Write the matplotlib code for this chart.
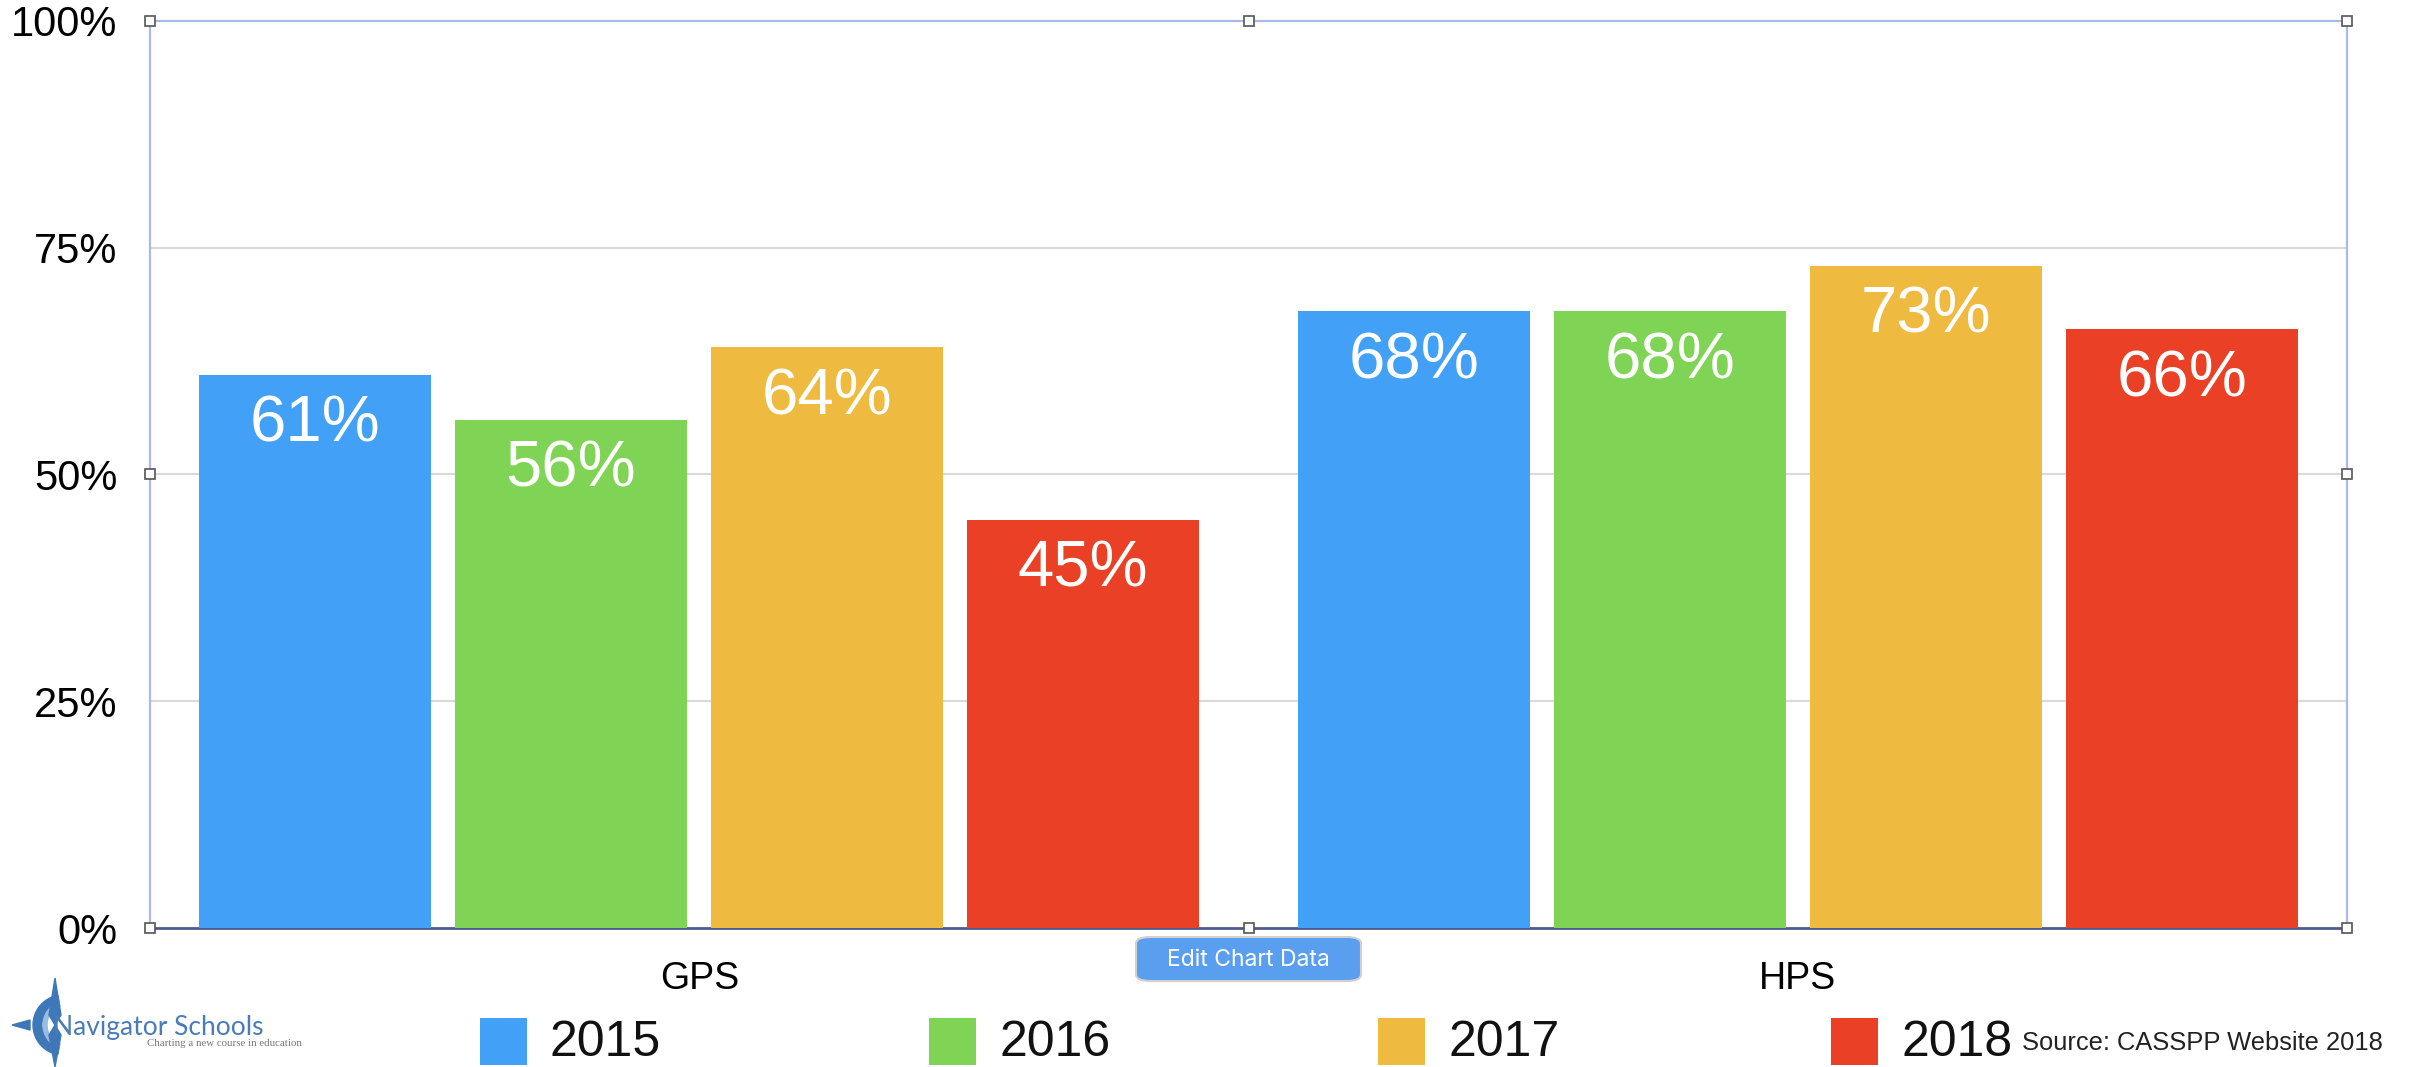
import matplotlib
matplotlib.use("Agg")
import matplotlib.pyplot as plt
import numpy as np
from matplotlib.patches import Rectangle, FancyBboxPatch, Polygon, Wedge

plt.rcParams['font.family'] = ['Liberation Sans', 'DejaVu Sans']

categories = ["GPS", "HPS"]
years = ["2015", "2016", "2017", "2018"]
values = {
    "2015": [61, 68],
    "2016": [56, 68],
    "2017": [64, 73],
    "2018": [45, 66],
}
colors = ["#42a0f6", "#80d455", "#eeba40", "#ea4025"]
yticks = [0, 25, 50, 75, 100]
ytick_labels = ["0%", "25%", "50%", "75%", "100%"]
source_text = "Source: CASSPP Website 2018"

W, H = 2427, 1067
fig = plt.figure(figsize=(W / 100, H / 100), dpi=100)
L, R, T, B = 150, 2347, 20.7, 928
ax = fig.add_axes([L / W, (H - B) / H, (R - L) / W, (B - T) / H])

x = np.arange(len(categories))
bw = 0.211
step = 0.233
for i, yr in enumerate(years):
    xs = x + (i - 1.5) * step
    bars = ax.bar(xs, values[yr], width=bw, color=colors[i], zorder=3)
    for xi, v in zip(xs, values[yr]):
        ax.annotate(f"{v}%", (xi, v), xytext=(0, -36), textcoords="offset points",
                    ha="center", va="center", color="white", fontsize=47, zorder=4)

ax.set_xlim(-0.5, 1.5)
ax.set_ylim(0, 100)
ax.set_yticks(yticks)
ax.set_yticklabels(ytick_labels)
ax.set_xticks(x)
ax.set_xticklabels(categories)
ax.tick_params(axis="y", length=0, pad=23.5, labelsize=30)
ax.tick_params(axis="x", length=0, pad=24, labelsize=27)
for yv in [25, 50, 75]:
    ax.axhline(yv, color="#d9d9d9", lw=1.5, zorder=1)
for s in ["left", "top", "right"]:
    ax.spines[s].set_color("#a9baea")
    ax.spines[s].set_linewidth(1.6)
ax.spines["bottom"].set_color("#4c5c8c")
ax.spines["bottom"].set_linewidth(2)

# selection handles
hx = [L, (L + R) / 2, R]
hy = [T, (T + B) / 2, B]
for px in hx:
    for py in hy:
        if px == (L + R) / 2 and py == (T + B) / 2:
            continue
        fig.patches.append(Rectangle(((px - 5) / W, (H - py - 5) / H), 10 / W, 10 / H,
                                     transform=fig.transFigure, facecolor="white",
                                     edgecolor="#555555", lw=1.2, zorder=10))

# legend
sq_x = [480, 929, 1378, 1831]
for i, yr in enumerate(years):
    fig.patches.append(Rectangle((sq_x[i] / W, (H - 1065) / H), 47 / W, 47 / H,
                                 transform=fig.transFigure, facecolor=colors[i],
                                 edgecolor="none"))
    fig.text((sq_x[i] + 70) / W, (H - 1043) / H, yr, fontsize=36, va="center",
             ha="left", color="#111111")

fig.text(2022 / W, (H - 1043) / H, source_text, fontsize=18.4, va="center",
         ha="left", color="#222222")

# Edit Chart Data button
fig.patches.append(FancyBboxPatch((1136 / W, (H - 981) / H), 225 / W, 44 / H,
                                  boxstyle="round,pad=0,rounding_size=0.006",
                                  transform=fig.transFigure, facecolor="#5a9ef0",
                                  edgecolor="#d0d0d0", lw=1.5, zorder=5))
fig.text(1248 / W, (H - 960) / H, "Edit Chart Data", fontsize=16.5, color="white",
         ha="center", va="center", family=["Inter", "DejaVu Sans"], zorder=6)

# logo
logo_blue = "#3f78b8"
cx, cy = 55, 1025
star = [(cx, 978), (cx + 6, cy - 10), (cx, cy), (cx - 6, cy - 10)]
fig.patches.append(Polygon([(px / W, (H - py) / H) for px, py in star],
                           transform=fig.transFigure, color=logo_blue))
star2 = [(cx, 1067), (cx + 6, cy + 10), (cx, cy), (cx - 6, cy + 10)]
fig.patches.append(Polygon([(px / W, (H - py) / H) for px, py in star2],
                           transform=fig.transFigure, color=logo_blue))
star3 = [(12, cy), (cx - 25, cy - 5), (cx - 25, cy + 5)]
fig.patches.append(Polygon([(px / W, (H - py) / H) for px, py in star3],
                           transform=fig.transFigure, color=logo_blue))
lax = fig.add_axes([0, 0, 1, 1], facecolor="none")
lax.set_xlim(0, W)
lax.set_ylim(H, 0)
lax.axis("off")
lax.add_patch(Wedge((cx + 8, cy), 30, 100, 260, width=9, color=logo_blue))
lax.add_patch(Wedge((cx + 12, cy), 24, 110, 250, width=4, color="#9bbbe0"))
fig.text(53 / W, (H - 1028) / H, "Navigator Schools", fontsize=19, color="#4a7cb8",
         va="center", ha="left", family=["Lato", "DejaVu Sans"])
fig.text(147 / W, (H - 1044) / H, "Charting a new course in education", fontsize=7.8,
         color="#777777", va="center", ha="left", family=["Liberation Serif", "DejaVu Serif"])

fig.savefig("out.png", dpi=100)
